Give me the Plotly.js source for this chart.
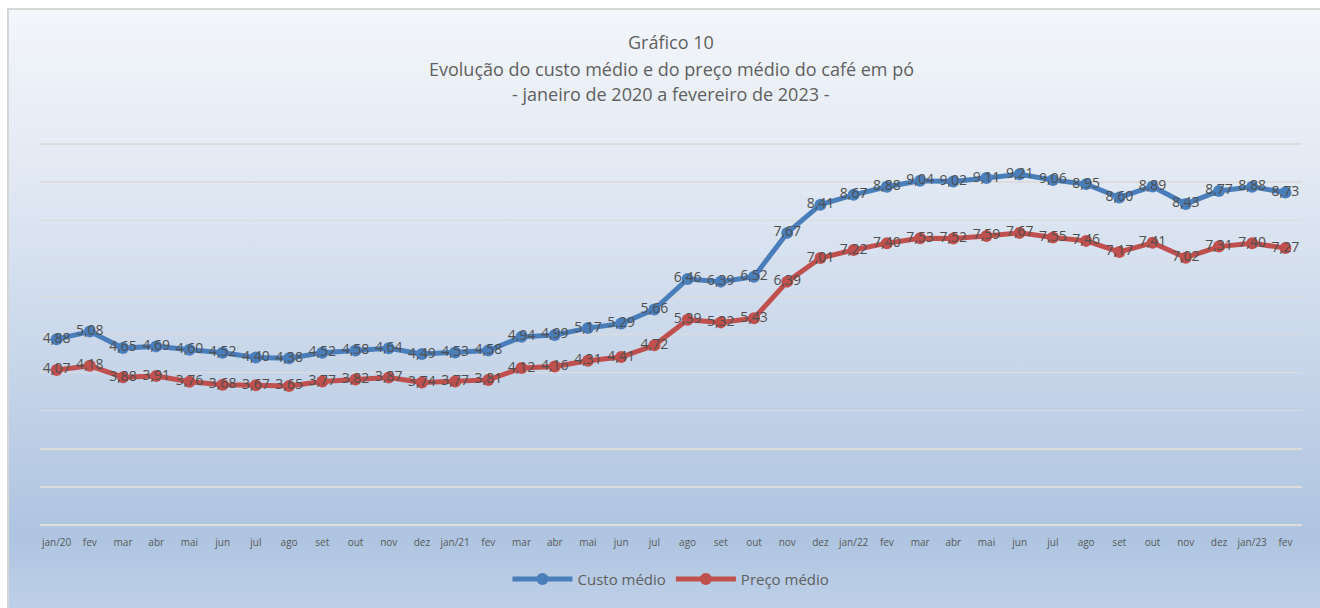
<!DOCTYPE html>
<html>
<head>
<meta charset="utf-8">
<script src="https://cdn.plot.ly/plotly-3.0.1.min.js"></script>
<style>
html,body{margin:0;padding:0;background:#ffffff;width:1320px;height:608px;overflow:hidden;}
#frame{position:absolute;left:7px;top:8px;width:1330px;height:620px;border-top:2px solid #d6d6d6;border-left:2px solid #d6d6d6;
background:linear-gradient(to bottom,#f3f6fb 0%,#e3eaf4 25%,#c9d7ea 55%,#aec4e0 85%,#c3d4ea 100%);}
#chart{position:absolute;left:0;top:0;width:1320px;height:608px;}
</style>
</head>
<body>
<div id="frame"></div>
<div id="chart"></div>
<script>
const months = ["jan/20","fev","mar","abr","mai","jun","jul","ago","set","out","nov","dez",
  "jan/21","fev","mar","abr","mai","jun","jul","ago","set","out","nov","dez",
  "jan/22","fev","mar","abr","mai","jun","jul","ago","set","out","nov","dez",
  "jan/23","fev"];
const custoMedio = [4.88,5.08,4.65,4.69,4.60,4.52,4.40,4.38,4.52,4.58,4.64,4.49,
  4.53,4.58,4.94,4.99,5.17,5.29,5.66,6.46,6.39,6.52,7.67,8.41,
  8.67,8.88,9.04,9.02,9.11,9.21,9.06,8.95,8.60,8.89,8.43,8.77,
  8.88,8.73];
const precoMedio = [4.07,4.18,3.88,3.91,3.76,3.68,3.67,3.65,3.77,3.82,3.87,3.74,
  3.77,3.81,4.12,4.16,4.31,4.41,4.72,5.39,5.32,5.43,6.39,7.01,
  7.22,7.40,7.53,7.52,7.59,7.67,7.55,7.46,7.17,7.41,7.02,7.31,
  7.40,7.27];
const xIdx = months.map((m,i)=>i);
const fontFam = '"Open Sans", "Noto Sans", sans-serif';

function series(name, y, color){
  return {
    type:'scatter', mode:'lines+markers+text', name:name,
    x:xIdx, y:y,
    line:{color:color,width:5},
    marker:{color:color,size:12},
    texttemplate:'%{y:.2f}',
    textposition:'middle center',
    textfont:{family:fontFam,size:14,color:'#4f4f4f'},
    hoverinfo:'x+y'
  };
}
const data = [series('Custo médio', custoMedio, '#4a7ebb'), series('Preço médio', precoMedio, '#c0504d')];

const titleLines = ['Gráfico 10','Evolução do custo médio e do preço médio do café em pó','- janeiro de 2020 a fevereiro de 2023 -'];
const titleY = [43,70,95];
const annotations = titleLines.map((t,i)=>({
  text:t, xref:'paper', yref:'paper', x:0.5, y:(525-titleY[i])/381,
  xanchor:'center', yanchor:'middle', showarrow:false,
  font:{family:fontFam,size:18,color:'#5f5f5f'}
}));

const layout = {
  width:1320, height:608,
  margin:{l:40,r:18,t:143,b:83},
  paper_bgcolor:'rgba(0,0,0,0)', plot_bgcolor:'rgba(0,0,0,0)',
  separators:',.',
  showlegend:true,
  legend:{orientation:'h',x:0.5,xanchor:'center',y:-0.142,yanchor:'middle',
    font:{family:fontFam,size:15,color:'#5f5f5f'},itemwidth:60,bgcolor:'rgba(0,0,0,0)'},
  xaxis:{range:[-0.5,37.5],tickmode:'array',tickvals:xIdx,ticktext:months,
    showgrid:false,zeroline:false,showline:false,ticks:'outside',ticklen:8,tickcolor:'rgba(0,0,0,0)',
    tickfont:{family:fontFam,size:10,color:'#595959'},tickangle:0,fixedrange:true},
  yaxis:{range:[0,10.03],tickmode:'array',tickvals:[0,1,2,3,4,5,6,7,8,9,10],showticklabels:false,showgrid:true,gridcolor:'#dcdcdc',gridwidth:1.5,
    zeroline:true,zerolinecolor:'#dcdcdc',zerolinewidth:1.5,showline:false,fixedrange:true},
  annotations:annotations
};
Plotly.newPlot('chart', data, layout, {displayModeBar:false,staticPlot:true});
</script>
</body>
</html>
